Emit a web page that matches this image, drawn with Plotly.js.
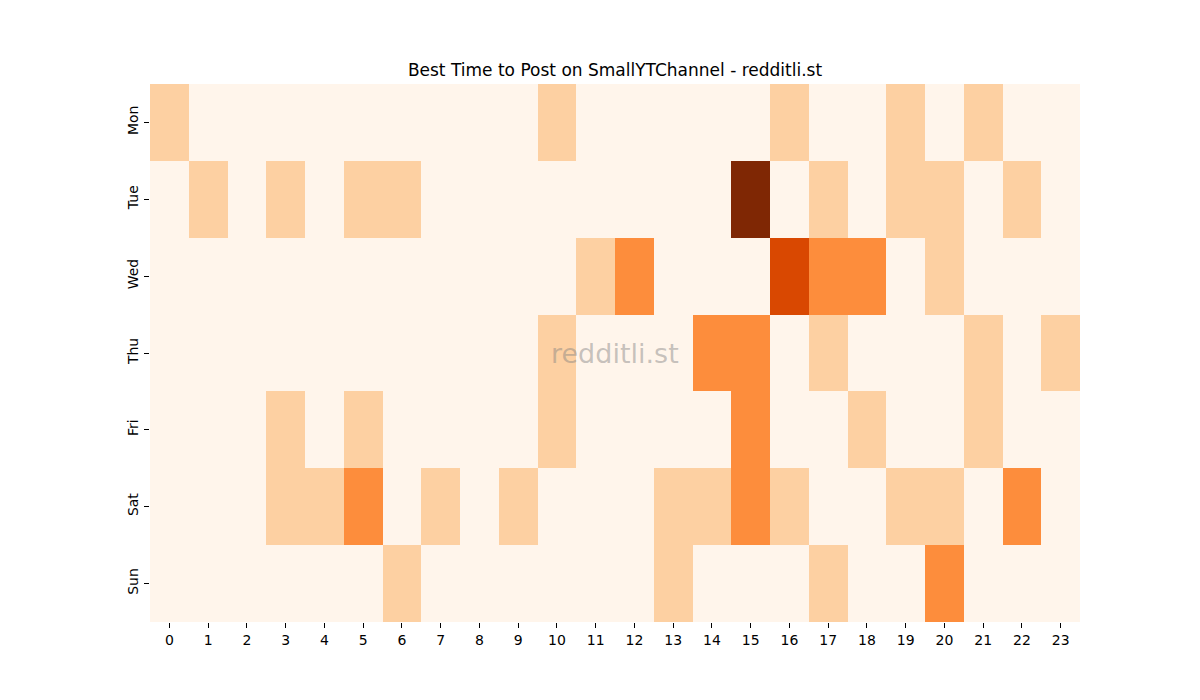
<!DOCTYPE html>
<html>
<head>
<meta charset="utf-8">
<script src="https://cdn.plot.ly/plotly-3.0.1.min.js"></script>
<style>
  html, body { margin: 0; padding: 0; background: #fff; }
  #plot { width: 1200px; height: 700px; }
</style>
</head>
<body>
<div id="plot"></div>
<script>
// hours of the day along x, weekdays down y
const hours = [...Array(24).keys()];
const days = ['Mon', 'Tue', 'Wed', 'Thu', 'Fri', 'Sat', 'Sun'];

// post scores, one row per day
const mon = [1,0,0,0,0,0,0,0,0,0,1,0,0,0,0,0,1,0,0,1,0,1,0,0];
const tue = [0,1,0,1,0,1,1,0,0,0,0,0,0,0,0,4,0,1,0,1,1,0,1,0];
const wed = [0,0,0,0,0,0,0,0,0,0,0,1,2,0,0,0,3,2,2,0,1,0,0,0];
const thu = [0,0,0,0,0,0,0,0,0,0,1,0,0,0,2,2,0,1,0,0,0,1,0,1];
const fri = [0,0,0,1,0,1,0,0,0,0,1,0,0,0,0,2,0,0,1,0,0,1,0,0];
const sat = [0,0,0,1,1,2,0,1,0,1,0,0,0,1,1,2,1,0,0,1,1,0,2,0];
const sun = [0,0,0,0,0,0,1,0,0,0,0,0,0,1,0,0,0,1,0,0,2,0,0,0];

// matplotlib "Oranges"
const oranges = [
  [0.0, '#fff5eb'], [0.125, '#fee6ce'], [0.25, '#fdd0a2'],
  [0.375, '#fdae6b'], [0.5, '#fd8d3c'], [0.625, '#f16913'],
  [0.75, '#d94801'], [0.875, '#a63603'], [1.0, '#7f2704']
];

const trace = {
  type: 'heatmap',
  x: hours,
  y: days,
  z: [mon, tue, wed, thu, fri, sat, sun],
  zmin: 0,
  zmax: 4,
  colorscale: oranges,
  showscale: false,
  xgap: 0,
  ygap: 0,
  hoverinfo: 'x+y+z'
};

const font = {family: 'DejaVu Sans, sans-serif', size: 14, color: '#000'};

const layout = {
  width: 1200,
  height: 700,
  margin: {l: 150, r: 120, t: 84, b: 78, pad: 0},
  paper_bgcolor: '#fff',
  plot_bgcolor: '#fff',
  font: font,
  title: {
    text: 'Best Time to Post on SmallYTChannel - redditli.st',
    font: {family: 'DejaVu Sans, sans-serif', size: 17, color: '#000'},
    x: 0.5, xanchor: 'center', xref: 'paper',
    y: 1 - 70 / 700, yanchor: 'middle'
  },
  xaxis: {
    tickmode: 'array',
    tickvals: hours,
    ticktext: hours.map(String),
    ticks: 'outside', ticklen: 5, tickwidth: 1, tickcolor: '#000',
    showgrid: false, zeroline: false, showline: false,
    range: [-0.5, 23.5],
    tickfont: font
  },
  yaxis: {
    autorange: 'reversed',
    ticks: 'outside', ticklen: 5, tickwidth: 1, tickcolor: '#000',
    tickangle: -90,
    showgrid: false, zeroline: false, showline: false,
    tickfont: font
  },
  annotations: [{
    text: 'redditli.st',
    xref: 'paper', yref: 'paper',
    x: 0.5, y: 0.5,
    xanchor: 'center', yanchor: 'middle',
    showarrow: false,
    font: {family: 'DejaVu Sans, sans-serif', size: 27, color: 'rgba(128,128,128,0.45)'}
  }]
};

Plotly.newPlot('plot', [trace], layout, {displayModeBar: false, staticPlot: true});
</script>
</body>
</html>
